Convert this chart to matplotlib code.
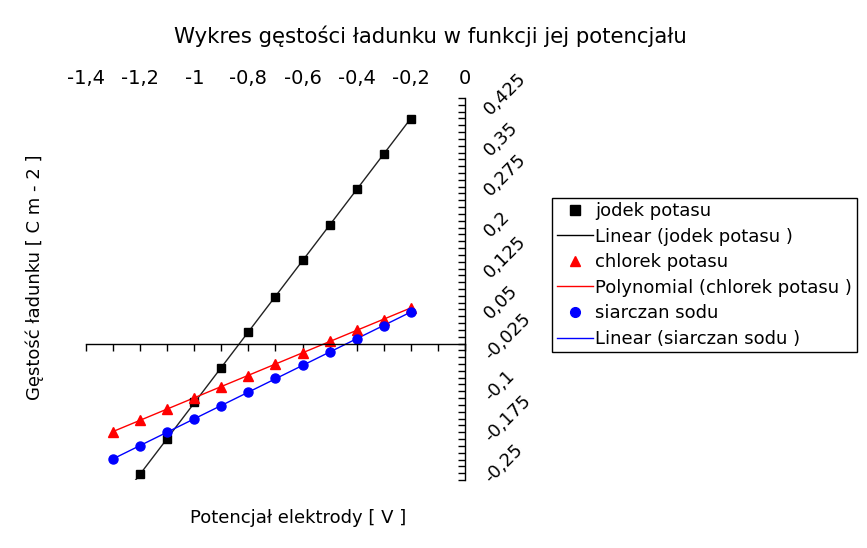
import matplotlib.pyplot as plt
from matplotlib.lines import Line2D
from matplotlib.ticker import FixedLocator, MultipleLocator, FuncFormatter
import numpy as np

# potencjal elektrody [V]
potencjal_jodek = [-1.2, -1.1, -1.0, -0.9, -0.8, -0.7, -0.6, -0.5, -0.4, -0.3, -0.2]
potencjal = [-1.3, -1.2, -1.1, -1.0, -0.9, -0.8, -0.7, -0.6, -0.5, -0.4, -0.3, -0.2]

# gestosc ladunku [C m-2]
jodek_potasu = [-0.239, -0.175, -0.108, -0.044, 0.022, 0.086, 0.153, 0.217, 0.283, 0.347, 0.412]
chlorek_potasu = [-0.162, -0.140, -0.119, -0.099, -0.079, -0.059, -0.037, -0.017, 0.004, 0.024, 0.044, 0.066]
siarczan_sodu = [-0.211, -0.188, -0.162, -0.138, -0.114, -0.088, -0.064, -0.040, -0.015, 0.009, 0.033, 0.057]

x_ticks = [-1.4, -1.2, -1.0, -0.8, -0.6, -0.4, -0.2, 0.0]
y_ticks = [-0.25, -0.175, -0.1, -0.025, 0.05, 0.125, 0.2, 0.275, 0.35, 0.425]


def przecinek(v, pos):
    return ('%g' % round(v, 4)).replace('.', ',')


fig = plt.figure(figsize=(8.67, 5.48), dpi=100)
ax = fig.add_axes([0.0992, 0.1241, 0.4371, 0.6971])
ax.set_xlim(-1.4, 0)
ax.set_ylim(-0.25, 0.45)

# trend lines
xs = np.linspace(min(potencjal), max(potencjal), 200)
a = np.polyfit(potencjal_jodek, jodek_potasu, 1)
ax.plot(xs, np.polyval(a, xs), color='#222222', lw=1)
b = np.polyfit(potencjal, chlorek_potasu, 2)
ax.plot(xs, np.polyval(b, xs), color='#ff0000', lw=1)
c = np.polyfit(potencjal, siarczan_sodu, 1)
ax.plot(xs, np.polyval(c, xs), color='#0000ff', lw=1)

# points
ax.plot(potencjal_jodek, jodek_potasu, 's', color='black', ms=6, ls='none')
ax.plot(potencjal, chlorek_potasu, '^', color='#ff0000', ms=7, ls='none')
ax.plot(potencjal, siarczan_sodu, 'o', color='#0000ff', ms=6.5, ls='none')

# axes styling
ax.spines['left'].set_visible(False)
ax.spines['top'].set_visible(False)
ax.spines['bottom'].set_position(('data', 0))
ax.spines['bottom'].set_linewidth(1)
ax.spines['right'].set_linewidth(1)

ax.xaxis.set_major_locator(FixedLocator(x_ticks))
ax.xaxis.set_minor_locator(MultipleLocator(0.1))
ax.xaxis.set_major_formatter(FuncFormatter(przecinek))
ax.tick_params(axis='x', which='both', direction='out', length=5, width=1,
               top=False, bottom=True, labelbottom=False, labeltop=True,
               labelsize=14, pad=2)

ax.yaxis.tick_right()
ax.yaxis.set_major_locator(FixedLocator(y_ticks))
ax.yaxis.set_minor_locator(MultipleLocator(0.0125))
ax.yaxis.set_major_formatter(FuncFormatter(przecinek))
ax.tick_params(axis='y', which='both', direction='in', length=5, width=1,
               left=False, right=True, labelsize=13, pad=16)
for t in ax.get_yticklabels():
    t.set_rotation(45)
    t.set_rotation_mode('anchor')
    t.set_ha('left')
    t.set_va('center')

fig.text(430 / 867, 1 - 36 / 548, 'Wykres gęstości ładunku w funkcji jej potencjału',
         ha='center', va='center', fontsize=15.3)
fig.text(298 / 867, 1 - 518 / 548, 'Potencjał elektrody [ V ]',
         ha='center', va='center', fontsize=13)
fig.text(35 / 867, 1 - 277 / 548, 'Gęstość ładunku [ C m - 2 ]',
         ha='center', va='center', fontsize=13, rotation=90)

handles = [
    Line2D([], [], marker='s', color='black', ls='none', ms=7),
    Line2D([], [], color='black', lw=1),
    Line2D([], [], marker='^', color='#ff0000', ls='none', ms=7),
    Line2D([], [], color='#ff0000', lw=1),
    Line2D([], [], marker='o', color='#0000ff', ls='none', ms=7),
    Line2D([], [], color='#0000ff', lw=1),
]
labels = ['jodek potasu', 'Linear (jodek potasu )', 'chlorek potasu',
          'Polynomial (chlorek potasu )', 'siarczan sodu', 'Linear (siarczan sodu )']
leg = fig.legend(handles, labels, loc='center left',
                 bbox_to_anchor=(552 / 867, 1 - 275 / 548),
                 fontsize=13, frameon=True, fancybox=False, edgecolor='black',
                 framealpha=1, handlelength=2.0, handletextpad=0.15,
                 labelspacing=0.42, borderpad=0.25, borderaxespad=0)
leg.get_frame().set_linewidth(1)

fig.savefig('out.png', dpi=100)
